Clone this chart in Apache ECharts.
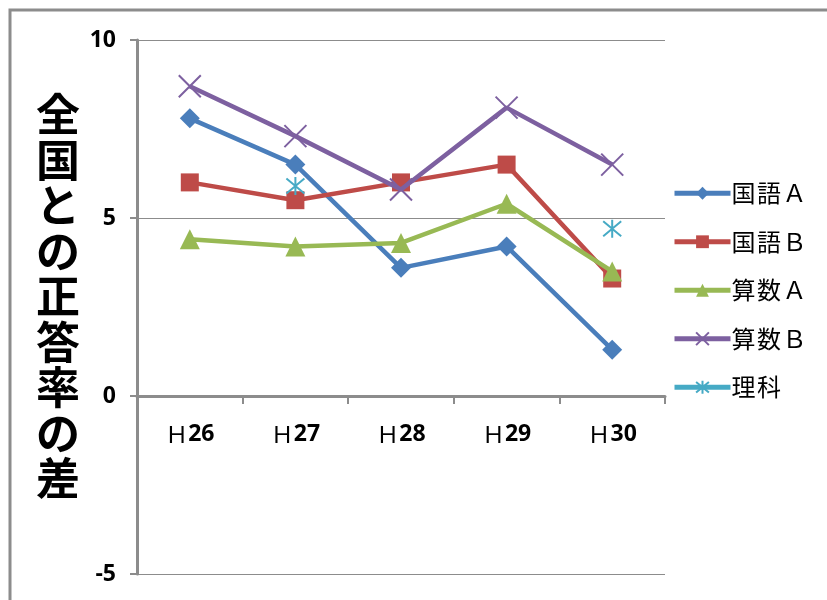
<!DOCTYPE html>
<html><head><meta charset="utf-8">
<script src="https://cdn.jsdelivr.net/npm/echarts@6/dist/echarts.min.js"></script>
<style>html,body{margin:0;padding:0;background:#fff}#c{width:827px;height:600px}</style>
</head><body><div id="c"></div>
<script>
var categories = ['26', '27', '28', '29', '30'];
var kokugoA = [7.8, 6.5, 3.6, 4.2, 1.3];
var kokugoB = [6.0, 5.5, 6.0, 6.5, 3.3];
var sansuA = [4.4, 4.2, 4.3, 5.4, 3.5];
var sansuB = [8.7, 7.3, 5.8, 8.1, 6.5];
var rika = [null, 5.9, null, null, 4.7];
var seriesNames = ['国語Ａ', '国語Ｂ', '算数Ａ', '算数Ｂ', '理科'];
var yTitle = '全国との正答率の差';
var yMin = -5, yMax = 10;

var colors = ['#4A7EBB', '#BE4B48', '#98B954', '#7D60A0', '#46AAC5'];
var crossPath = 'path://M0,0L10,10M10,0L0,10';
var starPath = 'path://M0,0L10,10M10,0L0,10M5,-1L5,11';

var gridTop = 40, gridBottom = 26, H = 600;
var plotH = H - gridTop - gridBottom;
var zeroOffset = -plotH * (0 - yMin) / (yMax - yMin);

function mk(name, data, idx, symbol, size, extra) {
  var s = {
    name: name, type: 'line', data: data, symbol: symbol, symbolSize: size,
    showAllSymbol: true, connectNulls: false,
    lineStyle: { color: colors[idx], width: 4.5 },
    itemStyle: { color: colors[idx] },
    z: 3 + idx
  };
  if (extra) Object.assign(s.itemStyle, extra);
  return s;
}

var chart = echarts.init(document.getElementById('c'));
chart.setOption({
  animation: false,
  backgroundColor: '#fff',
  grid: { left: 137, right: 162, top: gridTop, bottom: gridBottom, outerBoundsMode: 'none', containLabel: false },
  legend: {
    orient: 'vertical', left: 667, top: 176, itemWidth: 56, itemHeight: 16, itemGap: 24,
    lineStyle: { width: 5 },
    textStyle: { fontFamily: 'Noto Sans CJK JP', fontSize: 24, color: '#000', lineHeight: 24.5, padding: [0, 0, 0, -4] },
    formatter: function (n) { return n.split('').join('\u200A'); },
    data: seriesNames
  },
  xAxis: {
    type: 'category', data: categories, offset: zeroOffset,
    axisLine: { onZero: false, lineStyle: { color: '#8C8C8C', width: 3 } },
    axisTick: { show: true, length: 8, lineStyle: { color: '#8C8C8C', width: 2 } },
    axisLabel: {
      margin: 27,
      formatter: function (v) { return '{h|Ｈ}{n|' + v + '}'; },
      rich: {
        h: { fontFamily: 'Noto Sans CJK JP', fontSize: 23, color: '#000', fontWeight: 'normal' },
        n: { fontFamily: 'Open Sans', fontSize: 23, color: '#000', fontWeight: 'bold' }
      }
    }
  },
  yAxis: {
    type: 'value', min: yMin, max: yMax, interval: 5,
    axisLine: { show: true, lineStyle: { color: '#8C8C8C', width: 3 } },
    axisTick: { show: true, length: 7, lineStyle: { color: '#8C8C8C', width: 2 } },
    splitLine: { lineStyle: { color: '#8C8C8C', width: 1 } },
    axisLabel: { margin: 21, fontFamily: 'Open Sans', fontWeight: 'bold', fontSize: 23, color: '#000' }
  },
  graphic: [
    { type: 'rect', shape: { x: 10, y: 10, width: 840, height: 620 }, style: { fill: 'none', stroke: '#8C8C8C', lineWidth: 3 }, z: -1 },
    { type: 'text', left: 36, top: 92,
      style: { text: yTitle.split('').join('\n'), fontFamily: 'Noto Sans CJK JP', fontWeight: 'bold', fontSize: 44, lineHeight: 45.5, fill: '#000' } }
  ],
  series: [
    mk(seriesNames[0], kokugoA, 0, 'diamond', 20),
    mk(seriesNames[1], kokugoB, 1, 'rect', 18),
    mk(seriesNames[2], sansuA, 2, 'triangle', 20),
    mk(seriesNames[3], sansuB, 3, crossPath, 22, { color: 'none', borderColor: colors[3], borderWidth: 2 }),
    mk(seriesNames[4], rika, 4, starPath, 18, { color: 'none', borderColor: colors[4], borderWidth: 2 })
  ]
});
</script></body></html>
